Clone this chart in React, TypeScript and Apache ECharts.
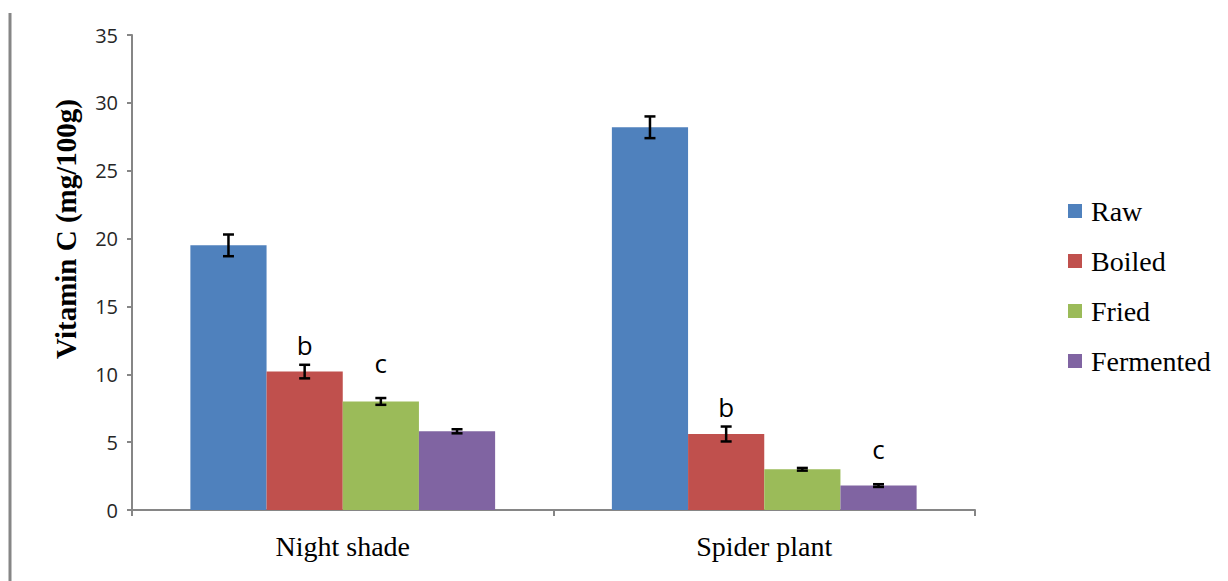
import React, { useEffect, useRef } from "react";
import * as echarts from "echarts";

const categories = ["Night shade", "Spider plant"];
const seriesNames = ["Raw", "Boiled", "Fried", "Fermented"];
const colors = ["#4F81BD", "#C0504D", "#9BBB59", "#8064A2"];
const rawValues = [19.5, 28.2];
const boiledValues = [10.2, 5.6];
const friedValues = [8.0, 3.0];
const fermentedValues = [5.8, 1.8];
const rawErrors = [0.8, 0.8];
const boiledErrors = [0.5, 0.55];
const friedErrors = [0.25, 0.1];
const fermentedErrors = [0.15, 0.1];
const rawLetters = ["", ""];
const boiledLetters = ["b", "b"];
const friedLetters = ["c", ""];
const fermentedLetters = ["", "c"];
const yTicks = [0, 5, 10, 15, 20, 25, 30, 35];

const allValues = [rawValues, boiledValues, friedValues, fermentedValues];
const allErrors = [rawErrors, boiledErrors, friedErrors, fermentedErrors];
const allLetters = [rawLetters, boiledLetters, friedLetters, fermentedLetters];

const CATEGORY_GAP = 0.277;
const letterGap: Record<string, number> = { b: 7, c: 22 };

export default function App() {
  const ref = useRef<HTMLDivElement>(null);
  useEffect(() => {
    if (!ref.current) return;
    const chart = echarts.init(ref.current, null, { renderer: "svg" });

    const barSeries = seriesNames.map((name, i) => ({
      name,
      type: "bar",
      data: allValues[i],
      itemStyle: { color: colors[i] },
      barGap: "0%",
      barCategoryGap: CATEGORY_GAP * 100 + "%",
    }));

    const errSeries = seriesNames.map((name, i) => ({
      name: name + " error",
      type: "custom",
      silent: true,
      z: 5,
      data: categories.map((_, c) => [c, allValues[i][c], allErrors[i][c]]),
      renderItem: (params: any, api: any) => {
        const c = api.value(0);
        const v = api.value(1);
        const e = api.value(2);
        const letter = allLetters[i][c];
        const center = api.coord([c, v]);
        const catW = api.size([1, 0])[0];
        const barW = (catW * (1 - CATEGORY_GAP)) / 4;
        const x = center[0] + (i - 1.5) * barW;
        const top = api.coord([c, v + e])[1];
        const bot = api.coord([c, v - e])[1];
        const hw = 5.5;
        const st = { stroke: "#000", lineWidth: 2.5 };
        const children: any[] = [
          { type: "line", shape: { x1: x, y1: top, x2: x, y2: bot }, style: st },
          { type: "line", shape: { x1: x - hw, y1: top, x2: x + hw, y2: top }, style: st },
          { type: "line", shape: { x1: x - hw, y1: bot, x2: x + hw, y2: bot }, style: st },
        ];
        if (letter) {
          children.push({
            type: "text",
            x: x,
            y: top - (letterGap[letter] || 10),
            style: {
              text: letter,
              fill: "#000",
              font: "26px 'Open Sans'",
              align: "center",
              verticalAlign: "bottom",
            },
          });
        }
        return { type: "group", children };
      },
    }));

    chart.setOption({
      animation: false,
      grid: { left: 132, right: 253, top: 35, bottom: 71, containLabel: false },
      legend: {
        data: seriesNames,
        orient: "vertical",
        left: 1063,
        top: 191,
        icon: "rect",
        itemWidth: 14,
        itemHeight: 14,
        itemGap: 20,
        selectedMode: false,
        textStyle: {
          fontFamily: "'Liberation Serif', 'Times New Roman', serif",
          fontSize: 28,
          color: "#000",
          lineHeight: 30,
          padding: [0, 0, 0, 4],
        },
      },
      xAxis: {
        type: "category",
        data: categories,
        axisLine: { lineStyle: { color: "#868686", width: 2 } },
        axisTick: { show: true, length: 6, lineStyle: { color: "#868686", width: 2 } },
        axisLabel: {
          fontFamily: "'Liberation Serif', 'Times New Roman', serif",
          fontSize: 28,
          color: "#000",
          margin: 22,
        },
      },
      yAxis: {
        type: "value",
        min: yTicks[0],
        max: yTicks[yTicks.length - 1],
        interval: 5,
        splitLine: { show: false },
        axisLine: { show: true, lineStyle: { color: "#868686", width: 2 } },
        axisTick: { show: true, length: 5, lineStyle: { color: "#868686", width: 2 } },
        axisLabel: {
          fontFamily: "'Open Sans', sans-serif",
          fontSize: 20,
          color: "#262626",
          margin: 14,
        },
      },
      graphic: [
        {
          type: "line",
          shape: { x1: 10, y1: 13, x2: 10, y2: 581 },
          style: { stroke: "#868686", lineWidth: 3 },
        },
        {
          type: "text",
          x: 66,
          y: 229,
          rotation: Math.PI / 2,
          style: {
            text: "Vitamin C (mg/100g)",
            font: "bold 29px 'Liberation Serif', 'Times New Roman', serif",
            fill: "#000",
            align: "center",
            verticalAlign: "middle",
          },
        },
      ],
      series: [...barSeries, ...errSeries],
    });
    return () => chart.dispose();
  }, []);
  return (
    <div
      ref={ref}
      style={{ position: "fixed", left: 0, top: 0, width: 1228, height: 581, background: "#fff" }}
    />
  );
}
